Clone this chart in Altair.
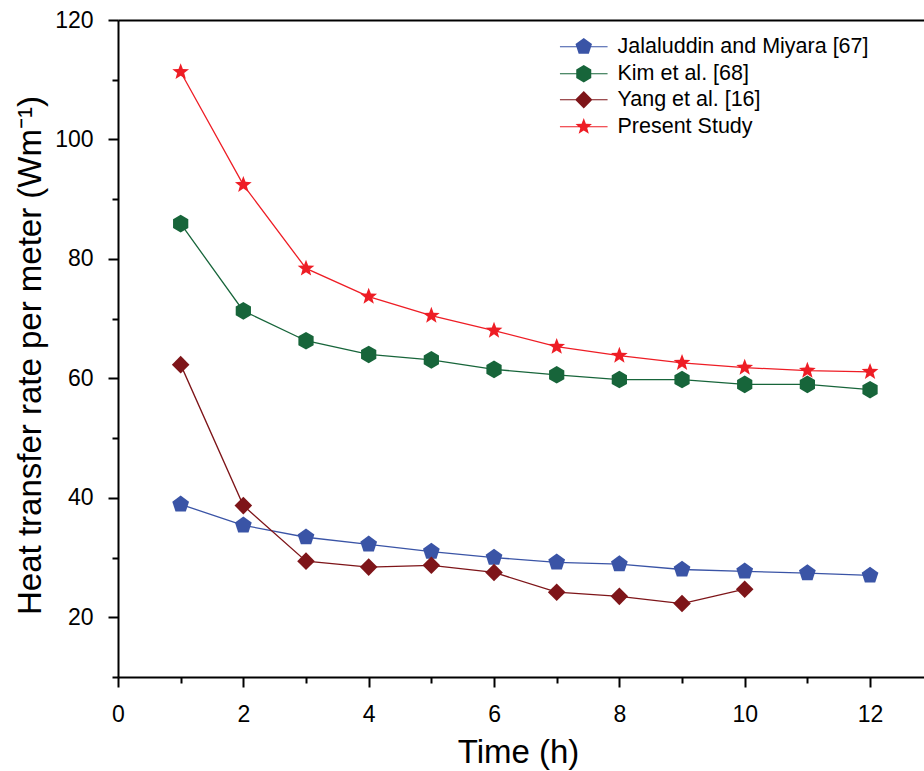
import math
import altair as alt
import pandas as pd

# ---------------- data ----------------
hours = [1, 2, 3, 4, 5, 6, 7, 8, 9, 10, 11, 12]
hours_yang = [1, 2, 3, 4, 5, 6, 7, 8, 9, 10]
jalaluddin = [38.9, 35.4, 33.4, 32.2, 31.0, 30.0, 29.2, 28.9, 28.0, 27.7, 27.4, 27.0]
kim = [85.9, 71.3, 66.3, 64.0, 63.1, 61.5, 60.6, 59.8, 59.8, 59.0, 59.0, 58.1]
yang = [62.3, 38.7, 29.4, 28.4, 28.7, 27.5, 24.2, 23.5, 22.3, 24.7]
present = [111.3, 92.4, 78.4, 73.7, 70.5, 68.0, 65.3, 63.8, 62.6, 61.8, 61.3, 61.1]

series_names = ["Jalaluddin and Miyara [67]", "\u00a0Kim et al. [68]",
                "Yang et al. [16]", "Present Study"]
series_colors = ["#3A54A6", "#17653A", "#7E1519", "#EE1D25"]

x_major = [0, 2, 4, 6, 8, 10, 12]
x_minor = [1, 3, 5, 7, 9, 11]
y_major = [20, 40, 60, 80, 100, 120]
y_minor = [10, 30, 50, 70, 90, 110]

rows = []
for name, xs, ys in [(series_names[0], hours, jalaluddin),
                     (series_names[1], hours, kim),
                     (series_names[2], hours_yang, yang),
                     (series_names[3], hours, present)]:
    for h, v in zip(xs, ys):
        rows.append({"series": name, "hour": h, "value": v})
df = pd.DataFrame(rows)

# ---------------- marker shapes ----------------
def poly(points):
    return "M" + "L".join(f"{x:.3f},{y:.3f}" for x, y in points) + "Z"

PENT = poly([(math.cos(math.radians(-90 + 72 * k)), math.sin(math.radians(-90 + 72 * k))) for k in range(5)])
HEX = poly([(math.cos(math.radians(-90 + 60 * k)), math.sin(math.radians(-90 + 60 * k))) for k in range(6)])
DIAM = "M-1,0L0,-1L1,0L0,1Z"
star_pts = []
for k in range(10):
    r = 1.0 if k % 2 == 0 else 0.42
    a = math.radians(-90 + 36 * k)
    star_pts.append((r * math.cos(a), r * math.sin(a)))
STAR = poly(star_pts)
marker_shapes = [PENT, HEX, DIAM, STAR]
# legend key: marker plus a thin bar on each side (the series line)
LEG_LINE = (poly([(-2.75, -0.07), (-0.5, -0.07), (-0.5, 0.07), (-2.75, 0.07)])
            + poly([(0.5, -0.07), (2.75, -0.07), (2.75, 0.07), (0.5, 0.07)]))
legend_shapes = [s + LEG_LINE for s in marker_shapes]

# ---------------- scales ----------------
W, H = 806, 657
x_scale = alt.Scale(domain=[0, 12.861], nice=False, zero=False)
y_scale = alt.Scale(domain=[10, 120], nice=False, zero=False)
color_scale = alt.Scale(domain=series_names, range=series_colors)

FONT = "Liberation Sans"

x_major_axis = alt.Axis(orient="bottom", values=x_major, title="Time (h)", grid=False, format="d",
                        tickSize=10, tickWidth=2, domainWidth=2, domainColor="black",
                        tickColor="black", labelFontSize=23, labelColor="black",
                        labelPadding=16, labelFont=FONT, labelFlush=False,
                        titleFontSize=33, titleFont=FONT, titleFontWeight="normal",
                        titleColor="black", titleX=400, titleY=85,
                        titleBaseline="alphabetic", titleAlign="center")
y_major_axis = alt.Axis(orient="left", values=y_major,
                        title="Heat transfer rate per meter (Wm\u207b\u00b9)",
                        grid=False, format="d",
                        tickSize=10, tickWidth=2, domainWidth=2, domainColor="black",
                        tickColor="black", labelFontSize=23, labelColor="black",
                        labelPadding=15, labelFont=FONT, labelFlush=False,
                        titleFontSize=33, titleFont=FONT, titleFontWeight="normal",
                        titleColor="black", titleX=-88, titleY=335,
                        titleAngle=270, titleBaseline="middle", titleAlign="center")
x_minor_axis = alt.Axis(orient="bottom", values=x_minor, title=None, grid=False,
                        labels=False, domain=False,
                        tickSize=6, tickWidth=2, tickColor="black")
y_minor_axis = alt.Axis(orient="left", values=y_minor, title=None, grid=False,
                        labels=False, domain=False,
                        tickSize=6, tickWidth=2, tickColor="black")
x_top_axis = alt.Axis(orient="top", title=None, grid=False, labels=False, ticks=False,
                      domain=True, domainWidth=2, domainColor="black")

lines = alt.Chart(df).mark_line(strokeWidth=1.3).encode(
    x=alt.X("hour:Q", scale=x_scale, axis=x_major_axis),
    y=alt.Y("value:Q", scale=y_scale, axis=y_major_axis),
    color=alt.Color("series:N", scale=color_scale, legend=None),
    order="hour:Q",
)

point_layers = []
for i, (name, shp) in enumerate(zip(series_names, marker_shapes)):
    point_layers.append(
        alt.Chart(df).transform_filter(alt.datum.series == name).mark_point(
            filled=True, size=310, opacity=1, strokeWidth=0, shape=shp
        ).encode(
            x=alt.X("hour:Q", scale=x_scale, axis=x_minor_axis if i == 0 else None),
            y=alt.Y("value:Q", scale=y_scale, axis=y_minor_axis if i == 0 else None),
            color=alt.Color("series:N", scale=color_scale, legend=None),
        )
    )

# one-entry legends, stacked to form the legend box
ROW = 26.7
legend_layers = []
for i, (name, shp, col) in enumerate(zip(series_names, legend_shapes, series_colors)):
    leg = alt.Legend(title=None, orient="none", legendX=455, legendY=round(16 + i * ROW),
                     labelFontSize=21.5, labelFont=FONT, labelColor="black", labelLimit=500,
                     symbolSize=300, symbolStrokeWidth=0, symbolOpacity=1,
                     symbolFillColor=col,
                     labelOffset=23, padding=0)
    legend_layers.append(
        alt.Chart(df).transform_filter("false").mark_point(
            filled=True, size=300, opacity=1, fill=col, strokeWidth=0
        ).encode(
            x=alt.X("hour:Q", scale=x_scale, axis=x_top_axis if i == 0 else None),
            y=alt.Y("value:Q", scale=y_scale, axis=None),
            shape=alt.Shape("series:N", scale=alt.Scale(domain=[name], range=[shp]),
                            legend=leg),
        )
    )

chart = alt.layer(lines, *point_layers, *legend_layers).resolve_scale(
    shape="independent"
).resolve_axis(
    x="independent", y="independent"
).properties(
    width=W, height=H,
    autosize=alt.AutoSizeParams(type="none"),
    padding={"left": 118, "top": 20, "right": 0, "bottom": 94},
).configure_view(stroke=None).configure(font=FONT, background="white")

chart.save("out.html", embed_options={"renderer": "svg", "actions": False})
